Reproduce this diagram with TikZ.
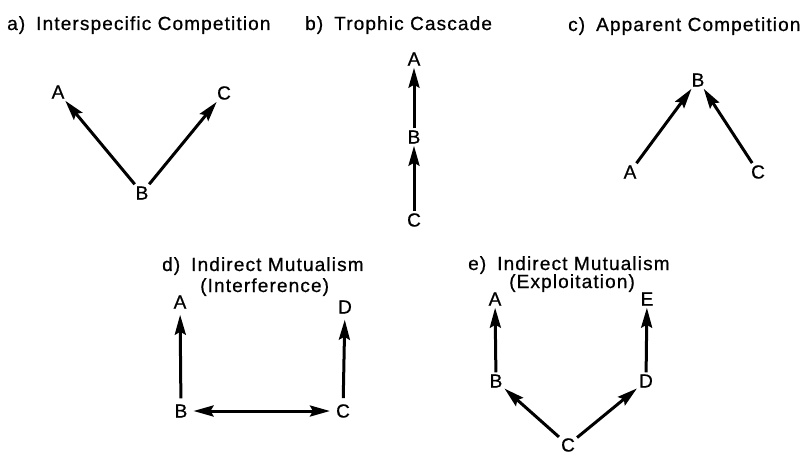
\documentclass[tikz,border=0pt]{standalone}
\usepackage{fontspec}
\setmainfont[FakeBold=0.7]{Liberation Sans}
\newfontfamily\ttlfont[LetterSpace=6, FakeBold=0.7]{Liberation Sans}
\usetikzlibrary{arrows.meta}

\begin{document}
\begin{tikzpicture}[x=1pt, y=-1pt,
    sp/.style={inner sep=2pt, font=\fontsize{19}{20}\selectfont},
    ttl/.style={anchor=base west, inner sep=0pt, font=\ttlfont\fontsize{19}{20}\selectfont},
    tip/.tip={Stealth[length=20pt, width=11pt, inset=3pt]},
    arr/.style={line width=3pt, -tip},
    gap/.style={shorten <=4pt, shorten >=4pt}]
    \useasboundingbox (0,0) rectangle (808,454);
    % titles
    \node[ttl] (ta) at (7,30) {a)\hspace{11pt}Interspecific Competition};
    \node[ttl] (tb) at (305,30) {b)\hspace{11pt}Trophic Cascade};
    \node[ttl] (tc) at (568,31) {c)\hspace{11pt}Apparent Competition};
    \node[ttl] (td) at (162,271) {d)\hspace{11pt}Indirect Mutualism};
    \node[ttl] (td2) at (200,292) {(Interference)};
    \node[ttl] (te) at (468,270) {e)\hspace{11pt}Indirect Mutualism};
    \node[ttl] (te2) at (509,288) {(Exploitation)};
    % a) interspecific competition
    \foreach \n/\x/\y in {A/58/92, B/142/193, C/224/93}
        \node[sp] (a\n) at (\x,\y) {\n};
    \draw[arr] (aB) -- (aA);
    \draw[arr] (aB) -- (aC);
    % b) trophic cascade
    \foreach \n/\x/\y in {A/414/59, B/414/137, C/414/220}
        \node[sp] (b\n) at (\x,\y) {\n};
    \draw[arr] (bC) -- (bB);
    \draw[arr] (bB) -- (bA);
    % c) apparent competition
    \foreach \n/\x/\y in {A/630/172, B/698/80, C/758/172}
        \node[sp] (c\n) at (\x,\y) {\n};
    \draw[arr] (cA) -- (cB);
    \draw[arr] (cC) -- (cB);
    % d) interference
    \foreach \n/\x/\y in {A/180/302, B/181/411, C/343/411, D/345/307}
        \node[sp] (d\n) at (\x,\y) {\n};
    \draw[arr, gap] (dB) -- (dA);
    \draw[arr, gap] (dC) -- (dD);
    \draw[arr, gap, tip-tip] (dB) -- (dC);
    % e) exploitation
    \foreach \n/\x/\y in {A/495/299, B/496/381, C/568/445, D/646/381, E/647/299}
        \node[sp] (e\n) at (\x,\y) {\n};
    \draw[arr] (eB) -- (eA);
    \draw[arr] (eD) -- (eE);
    \draw[arr] (eC) -- (eB);
    \draw[arr] (eC) -- (eD);
\end{tikzpicture}
\end{document}
